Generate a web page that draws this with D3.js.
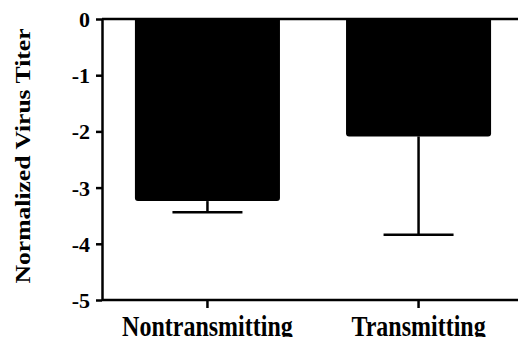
<!DOCTYPE html>
<html>
<head>
<meta charset="utf-8">
<script src="https://cdn.jsdelivr.net/npm/d3@7"></script>
<style>
  html, body { margin: 0; padding: 0; background: #fff; }
</style>
</head>
<body>
<div id="chart"></div>
<script>
// Data
const groups = ["Nontransmitting", "Transmitting"];
const means = [-3.24, -2.09];
const errors = [0.20, 1.75];
const yTicks = [0, -1, -2, -3, -4, -5];

const width = 518;
const height = 337;
const marginTop = 19;
const marginBottom = 37;
const marginLeft = 102;
const font = "'Liberation Serif', 'Times New Roman', serif";

const svg = d3.create("svg")
  .attr("width", width)
  .attr("height", height)
  .attr("viewBox", [0, 0, width, height]);

const y = d3.scaleLinear()
  .domain([0, -5])
  .range([marginTop, height - marginBottom]);

const x = d3.scaleBand()
  .domain(groups)
  .range([marginLeft, marginLeft + 422])
  .paddingInner(0.313)
  .paddingOuter(0.156);

const data = groups.map((g, i) => ({ label: g, mean: means[i], err: errors[i] }));

// Bars (rounded bottom corners)
const r = 3;
svg.append("g")
  .selectAll("path")
  .data(data)
  .join("path")
  .attr("fill", "#000")
  .attr("d", d => {
    const x0 = x(d.label), x1 = x0 + x.bandwidth();
    const y0 = y(0), y1 = y(d.mean);
    return `M${x0},${y0}L${x1},${y0}L${x1},${y1 - r}Q${x1},${y1} ${x1 - r},${y1}` +
      `L${x0 + r},${y1}Q${x0},${y1} ${x0},${y1 - r}Z`;
  });

// Error bars
const capW = 70;
const eb = svg.append("g")
  .attr("stroke", "#000")
  .attr("stroke-width", 2.5);
eb.selectAll("line.stem")
  .data(data)
  .join("line")
  .attr("class", "stem")
  .attr("x1", d => x(d.label) + x.bandwidth() / 2)
  .attr("x2", d => x(d.label) + x.bandwidth() / 2)
  .attr("y1", d => y(d.mean))
  .attr("y2", d => y(d.mean - d.err));
eb.selectAll("line.cap")
  .data(data)
  .join("line")
  .attr("class", "cap")
  .attr("x1", d => x(d.label) + x.bandwidth() / 2 - capW / 2)
  .attr("x2", d => x(d.label) + x.bandwidth() / 2 + capW / 2)
  .attr("y1", d => y(d.mean - d.err))
  .attr("y2", d => y(d.mean - d.err));

// Top baseline at 0
svg.append("line")
  .attr("x1", marginLeft)
  .attr("x2", width + 5)
  .attr("y1", y(0))
  .attr("y2", y(0))
  .attr("stroke", "#000")
  .attr("stroke-width", 2.5);

// Y axis
svg.append("g")
  .attr("transform", `translate(${marginLeft},0)`)
  .call(d3.axisLeft(y).tickValues(yTicks).tickSize(6).tickSizeOuter(0).tickPadding(6))
  .call(g => g.selectAll(".domain, .tick line").attr("stroke", "#000").attr("stroke-width", 2.5))
  .call(g => g.selectAll(".tick text")
    .attr("fill", "#000")
    .attr("font-family", font)
    .attr("font-weight", "bold")
    .style("font-size", "22px")
    .attr("dy", "0.34em")
    .text(d => d === 0 ? "0" : "-" + Math.abs(d)));

// X axis (labels are drawn a bit taller than wide, like the reference)
const stretch = 1.22;
svg.append("g")
  .attr("transform", `translate(0,${y(-5)})`)
  .call(d3.axisBottom(x).tickSize(8).tickSizeOuter(0).tickPadding(5))
  .call(g => g.select(".domain").attr("d", `M${marginLeft},0H${width + 5}`))
  .call(g => g.selectAll(".domain, .tick line").attr("stroke", "#000").attr("stroke-width", 2.5))
  .call(g => g.selectAll(".tick text")
    .attr("fill", "#000")
    .attr("font-family", font)
    .attr("font-weight", "bold")
    .style("font-size", "24px")
    .attr("y", 12.5)
    .attr("dy", "0.71em")
    .attr("transform", `scale(1,${stretch})`));

// Y label
svg.append("text")
  .attr("transform", `translate(30,156) rotate(-90)`)
  .attr("text-anchor", "middle")
  .attr("font-family", font)
  .attr("font-weight", "bold")
  .attr("font-size", "22px")
  .attr("textLength", 255)
  .attr("lengthAdjust", "spacingAndGlyphs")
  .text("Normalized Virus Titer");

document.getElementById("chart").appendChild(svg.node());
</script>
</body>
</html>
